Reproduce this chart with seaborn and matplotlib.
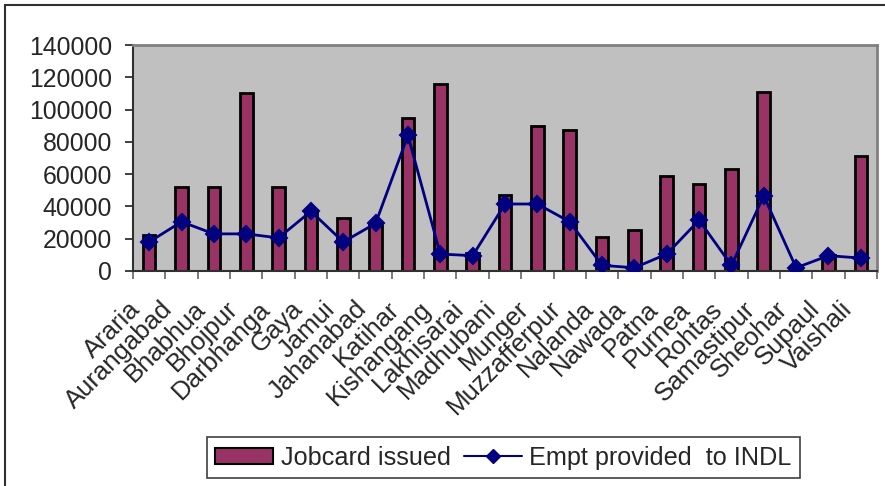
import matplotlib
matplotlib.use("Agg")
import matplotlib.pyplot as plt
import matplotlib.transforms as mtransforms
from matplotlib.patches import Patch, Rectangle
from matplotlib.lines import Line2D
import numpy as np
import pandas as pd
import seaborn as sns

# District-wise job cards issued and employment provided to individuals
districts = [
    "Araria", "Aurangabad", "Bhabhua", "Bhojpur", "Darbhanga", "Gaya", "Jamui",
    "Jahanabad", "Katihar", "Kishangang", "Lakhisarai", "Madhubani", "Munger",
    "Muzzafferpur", "Nalanda", "Nawada", "Patna", "Purnea", "Rohtas",
    "Samastipur", "Sheohar", "Supaul", "Vaishali",
]
jobcards = [
    22000, 52000, 52000, 110000, 52000, 38000, 33000,
    30000, 95000, 116000, 11000, 47000, 90000,
    87500, 21000, 25500, 59000, 54000, 63000,
    111000, 3000, 10000, 71500,
]
employment = [
    18000, 30500, 23000, 23000, 20500, 37000, 18000,
    29500, 84000, 10500, 9500, 41500, 41500,
    30500, 3500, 2000, 10500, 31500, 3500,
    46500, 2000, 9500, 8000,
]
y_ticks = [0, 20000, 40000, 60000, 80000, 100000, 120000, 140000]
series_names = ["Jobcard issued", "Empt provided  to INDL"]

plum = "#993366"
navy = "#000080"

sns.set_style("white")
plt.rcParams["font.family"] = ["Liberation Sans", "DejaVu Sans"]

fig = plt.figure(figsize=(8.85, 4.86), dpi=100)
ax = fig.add_axes([133 / 885, 215 / 486, 744 / 885, 226 / 486])
ax.set_facecolor("#C0C0C0")

df = pd.DataFrame({"district": districts, "jobcards": jobcards, "employment": employment})

sns.barplot(data=df, x="district", y="jobcards", color=plum, saturation=1,
            width=0.39, edgecolor="black", linewidth=2, ax=ax, zorder=2)
sns.pointplot(data=df, x="district", y="employment", color=navy, markers="D",
              errorbar=None, markersize=8.5, linewidth=2, ax=ax, zorder=3)

ax.set_xlim(-0.5, len(districts) - 0.5)
ax.set_ylim(0, 140000)
ax.set_xlabel("")
ax.set_ylabel("")

ax.set_yticks(y_ticks)
ax.set_yticklabels([str(v) for v in y_ticks], fontsize=17.8)
ax.tick_params(axis="y", direction="out", length=5.8, width=1.3,
               color="#303030", pad=9.3, left=True)

ax.set_xticks(range(len(districts)))
ax.set_xticklabels(districts, fontsize=18.5)
ax.set_xticks(np.arange(-0.5, len(districts), 1), minor=True)
ax.tick_params(axis="x", which="major", length=0, pad=18.5, bottom=True)
ax.tick_params(axis="x", which="minor", direction="out", length=5.8,
               width=1.3, color="#707070", bottom=True)

shift = mtransforms.ScaledTranslation(-4 / 100, 0, fig.dpi_scale_trans)
for lbl in ax.get_xticklabels():
    lbl.set_rotation(45)
    lbl.set_ha("right")
    lbl.set_va("top")
    lbl.set_rotation_mode("default")
    lbl.set_transform(lbl.get_transform() + shift)

for side in ("left", "bottom"):
    ax.spines[side].set_color("#303030")
    ax.spines[side].set_linewidth(1.5)
for side in ("top", "right"):
    ax.spines[side].set_color("#808080")
    ax.spines[side].set_linewidth(2)

handles = [
    Patch(facecolor=plum, edgecolor="black", linewidth=1.5),
    Line2D([], [], color=navy, marker="D", markersize=7, linewidth=1.5),
]
leg = fig.legend(handles, series_names, loc="center",
                 bbox_to_anchor=(503.5 / 885, 28.5 / 486), ncol=2,
                 frameon=True, fancybox=False, edgecolor="#404040",
                 framealpha=1, fontsize=18.2, handlelength=2.3,
                 handleheight=0.6, handletextpad=0.3, columnspacing=0.5,
                 borderpad=0.32, borderaxespad=0)
leg.get_frame().set_linewidth(1.2)

fig.add_artist(Rectangle((4.5 / 885, -0.1), 1.2, 0.9907 + 0.1,
                         transform=fig.transFigure, fill=False,
                         edgecolor="#303030", linewidth=1.5))

fig.savefig("out.png", dpi=100)
